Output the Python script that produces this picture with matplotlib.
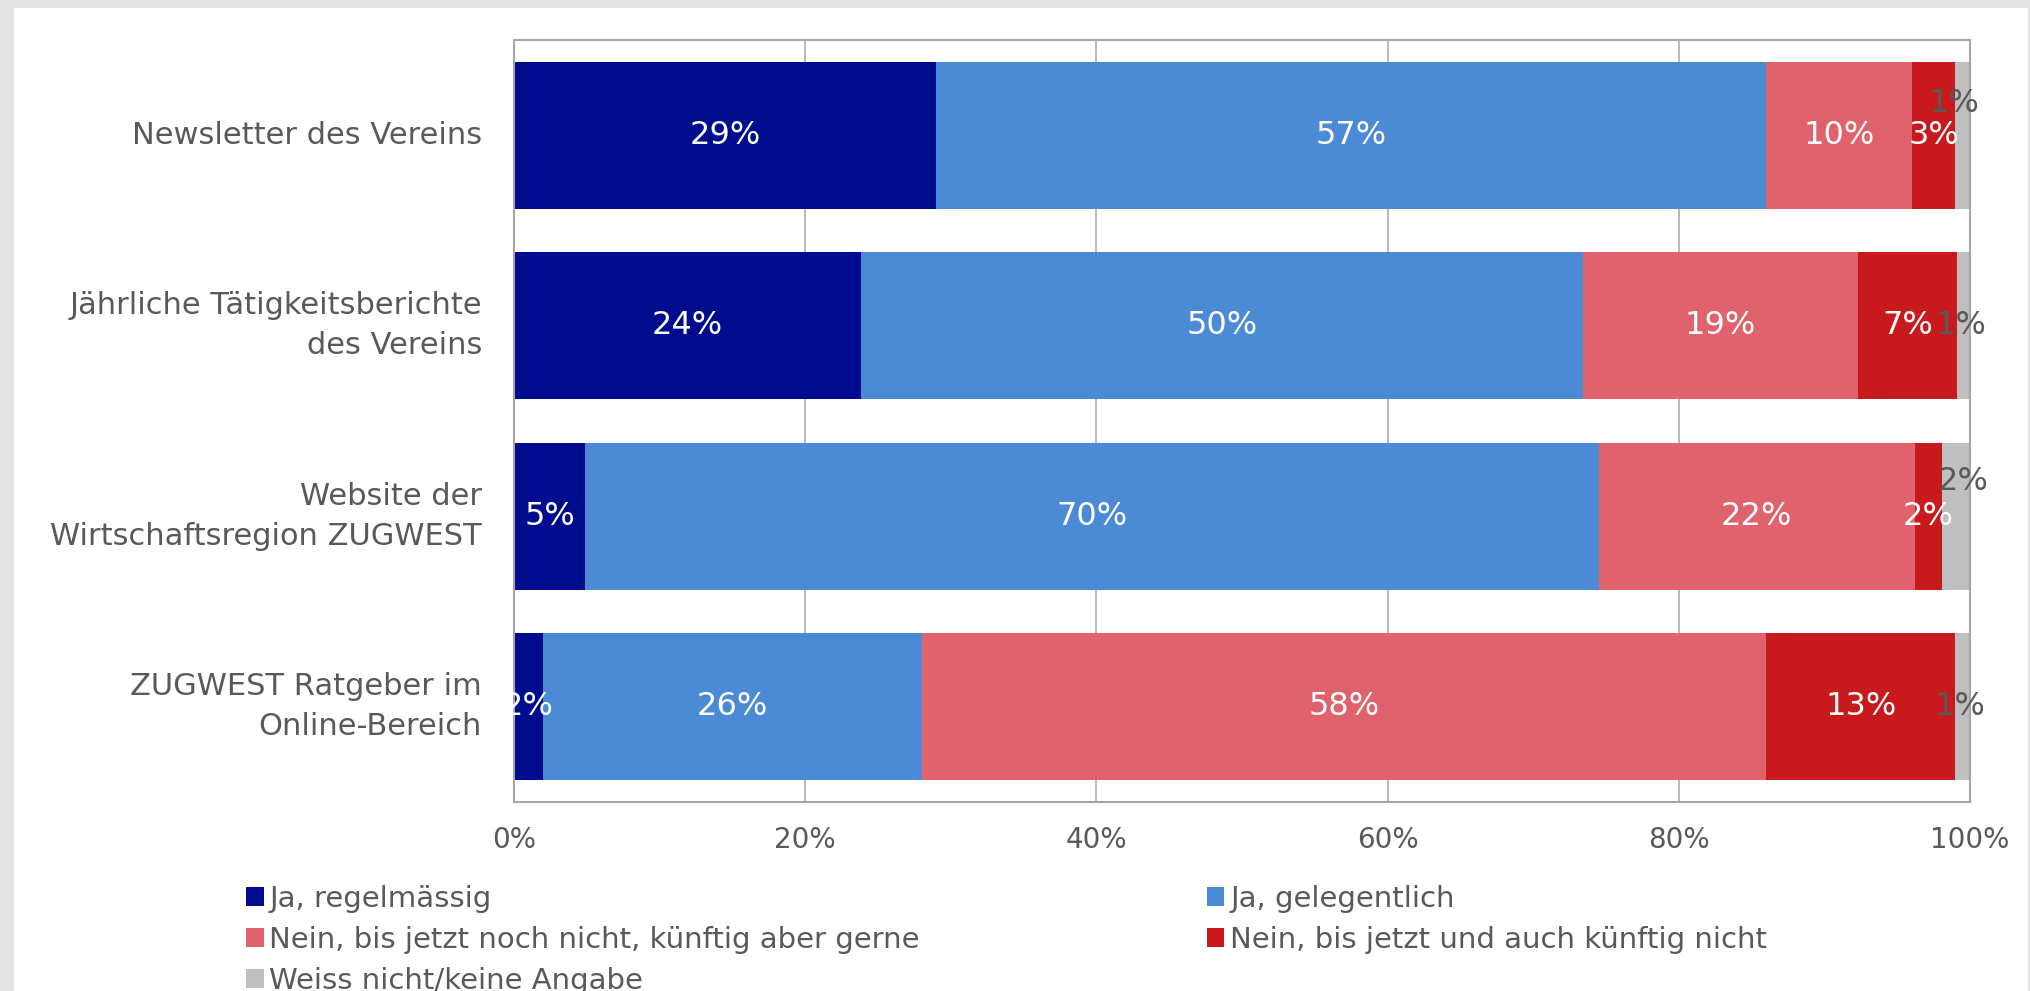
#!/usr/bin/env python3
# Stacked horizontal bars: use of association communication channels (survey shares in %).
import matplotlib
matplotlib.use("Agg")
import matplotlib.pyplot as plt  # noqa: E402
from matplotlib.patches import Rectangle  # noqa: E402

CATEGORIES = [
    "Newsletter des Vereins",
    "Jährliche Tätigkeitsberichte\ndes Vereins",
    "Website der\nWirtschaftsregion ZUGWEST",
    "ZUGWEST Ratgeber im\nOnline-Bereich",
]
SERIES = [
    "Ja, regelmässig",
    "Ja, gelegentlich",
    "Nein, bis jetzt noch nicht, künftig aber gerne",
    "Nein, bis jetzt und auch künftig nicht",
    "Weiss nicht/keine Angabe",
]
# shares per series, one value per category (top to bottom)
ja_regelmaessig = [29.0, 23.8, 4.9, 2.0]
ja_gelegentlich = [57.0, 49.6, 69.6, 26.0]
nein_gerne = [10.0, 18.9, 21.7, 58.0]
nein_nicht = [3.0, 6.8, 1.9, 13.0]
weiss_nicht = [1.0, 0.9, 1.9, 1.0]
VALUES = [ja_regelmaessig, ja_gelegentlich, nein_gerne, nein_nicht, weiss_nicht]
X_TICKS = [0, 20, 40, 60, 80, 100]

COLORS = ["#000C8E", "#4B8AD5", "#E0626D", "#C8191C", "#BFBFBF"]
LABEL_COLORS = ["white", "white", "white", "white", "#595959"]
TEXT = "#595959"
FRAME = "#A6A6A6"

# label nudges (dx in %, dy in category units) for the tiny grey segments
NUDGE = {(4, 0): (-0.6, -0.165), (4, 1): (-0.2, 0.0), (4, 2): (0.5, -0.18), (4, 3): (-0.2, 0.0)}

plt.rcParams["font.family"] = ["DejaVu Sans"]

fig = plt.figure(figsize=(20.31, 9.91), dpi=100)
fig.patch.set_facecolor("#E4E4E4")
fig.patches.append(Rectangle((14 / 2031, 0), (2028 - 14) / 2031, 1 - 8 / 991,
                             transform=fig.transFigure, facecolor="white",
                             edgecolor="none", zorder=-10))

ax = fig.add_axes([514 / 2031, 1 - 802 / 991, (1970 - 514) / 2031, (802 - 40) / 991])
ax.set_facecolor("white")
ax.set_zorder(1)

ypos = list(range(len(CATEGORIES)))
left = [0.0] * len(CATEGORIES)
bars = []
for si, (name, vals) in enumerate(zip(SERIES, VALUES)):
    b = ax.barh(ypos, vals, left=left, height=0.77, color=COLORS[si], label=name, zorder=2)
    bars.append(b)
    for ci, v in enumerate(vals):
        dx, dy = NUDGE.get((si, ci), (0, 0))
        ax.text(left[ci] + v / 2 + dx, ci + dy, f"{v:.0f}%", ha="center", va="center",
                color=LABEL_COLORS[si], fontsize=23, zorder=3)
    left = [l + v for l, v in zip(left, vals)]

ax.set_xlim(0, 100)
ax.set_ylim(len(CATEGORIES) - 0.5, -0.5)
ax.set_xticks(X_TICKS)
ax.set_xticklabels([f"{t}%" for t in X_TICKS])
ax.set_yticks(ypos)
ax.set_yticklabels(CATEGORIES, linespacing=1.47)
for lbl in ax.get_yticklabels():
    lbl.set_verticalalignment("center")
ax.tick_params(axis="x", length=0, pad=17, labelsize=20, labelcolor=TEXT)
ax.tick_params(axis="y", length=0, pad=23, labelsize=22, labelcolor=TEXT)
ax.grid(axis="x", color=FRAME, linewidth=1.1, zorder=1)
ax.set_axisbelow(True)
for s in ax.spines.values():
    s.set_color(FRAME)
    s.set_linewidth(1.5)

# legend laid out row by row in two columns, as two side-by-side legends
handles = [b for b in bars]
leg_kw = dict(frameon=False, fontsize=21, labelcolor=TEXT, handlelength=0.6,
              handleheight=0.6, handletextpad=0.2, labelspacing=0.44,
              borderpad=0, borderaxespad=0, loc="upper left")
leg1 = fig.legend([handles[0], handles[2], handles[4]],
                  [SERIES[0], SERIES[2], SERIES[4]],
                  bbox_to_anchor=(246 / 2031, 1 - 885 / 991), **leg_kw)
leg2 = fig.legend([handles[1], handles[3]], [SERIES[1], SERIES[3]],
                  bbox_to_anchor=(1207 / 2031, 1 - 885 / 991), **leg_kw)

fig.savefig("out.png", dpi=100, facecolor=fig.get_facecolor())
